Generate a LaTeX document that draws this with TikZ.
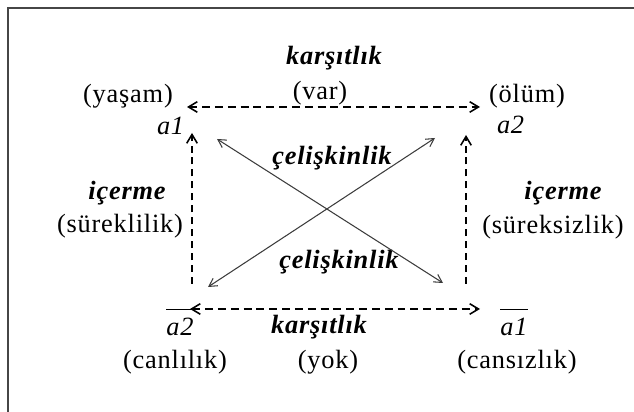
\documentclass[tikz,border=0pt]{standalone}
\usepackage{fontspec}
\setmainfont{Liberation Serif}[LetterSpace=3]
\usepackage{tikz}
\usetikzlibrary{arrows.meta}
\definecolor{sqFrame}{RGB}{70,70,70}
\definecolor{sqDiag}{RGB}{60,60,60}
\tikzset{
    sqtext/.style={inner sep=0pt, font=\fontsize{15}{17}\selectfont},
    sqterm/.style={inner sep=0pt, font=\fontsize{15}{17}\selectfont\bfseries\itshape},
    opposite/.style={line width=0.9pt, dash pattern=on 4.5pt off 2.8pt,
        {Straight Barb[length=5pt,width=6pt]}-{Straight Barb[length=5pt,width=6pt]}},
    implies/.style={line width=0.9pt, dash pattern=on 4pt off 2.8pt,
        -{Straight Barb[length=5pt,width=6pt]}},
    contra/.style={sqDiag, line width=0.6pt,
        {Straight Barb[length=4.5pt,width=5pt]}-{Straight Barb[length=4.5pt,width=5pt]}}
}

\begin{document}
\begin{tikzpicture}[x=1cm,y=1cm]
    \useasboundingbox (0,0) rectangle (12.68,8.24);
    \clip (0,0) rectangle (12.68,8.24);
    \draw[sqFrame, line width=1.1pt] (0.16,-0.5) rectangle (13.2,8.08);

    % corner labels
    \node[sqtext] (life) at (2.56,6.32) {(yaşam)};
    \node[sqtext] (aone) at (3.42,5.72) {\textit{a1}};
    \node[sqtext] (death) at (10.54,6.32) {(ölüm)};
    \node[sqtext] (atwo) at (10.22,5.74) {\textit{a2}};
    \node[sqtext, anchor=north] (notatwo) at (3.60,2.09) {$\overline{\rule{0pt}{14pt}\textit{a2}}$};
    \node[sqtext] (living) at (3.50,1.00) {(canlılık)};
    \node[sqtext, anchor=north] (notaone) at (10.28,2.09) {$\overline{\rule{0pt}{14pt}\textit{a1}}$};
    \node[sqtext] (lifeless) at (10.34,1.00) {(cansızlık)};

    % relation labels
    \node[sqterm] (oppTop) at (6.68,7.08) {karşıtlık};
    \node[sqtext] (oppTopSub) at (6.40,6.38) {(var)};
    \node[sqterm] (oppBot) at (6.38,1.70) {karşıtlık};
    \node[sqtext] (oppBotSub) at (6.56,1.00) {(yok)};
    \node[sqterm] (impLeft) at (2.54,4.38) {içerme};
    \node[sqtext] (impLeftSub) at (2.40,3.72) {(süreklilik)};
    \node[sqterm] (impRight) at (11.26,4.38) {içerme};
    \node[sqtext] (impRightSub) at (11.06,3.70) {(süreksizlik)};
    \node[sqterm] (conTop) at (6.64,5.08) {çelişkinlik};
    \node[sqterm] (conBot) at (6.78,3.00) {çelişkinlik};

    % arrow ends
    \coordinate (oppTL) at (3.74,6.10);
    \coordinate (oppTR) at (9.60,6.10);
    \coordinate (oppBL) at (3.80,2.06);
    \coordinate (oppBR) at (9.60,2.06);
    \coordinate (impLfoot) at (3.84,2.56);
    \coordinate (impLtip) at (3.84,5.58);
    \coordinate (impRfoot) at (9.32,2.56);
    \coordinate (impRtip) at (9.32,5.54);
    \coordinate (conA) at (4.34,5.46);
    \coordinate (conB) at (8.86,2.58);
    \coordinate (conC) at (4.16,2.50);
    \coordinate (conD) at (8.70,5.48);

    \draw[opposite] (oppTL) -- (oppTR);
    \draw[opposite] (oppBL) -- (oppBR);
    \draw[implies] (impLfoot) -- (impLtip);
    \draw[implies] (impRfoot) -- (impRtip);
    \draw[contra] (conA) -- (conB);
    \draw[contra] (conC) -- (conD);
\end{tikzpicture}
\end{document}
